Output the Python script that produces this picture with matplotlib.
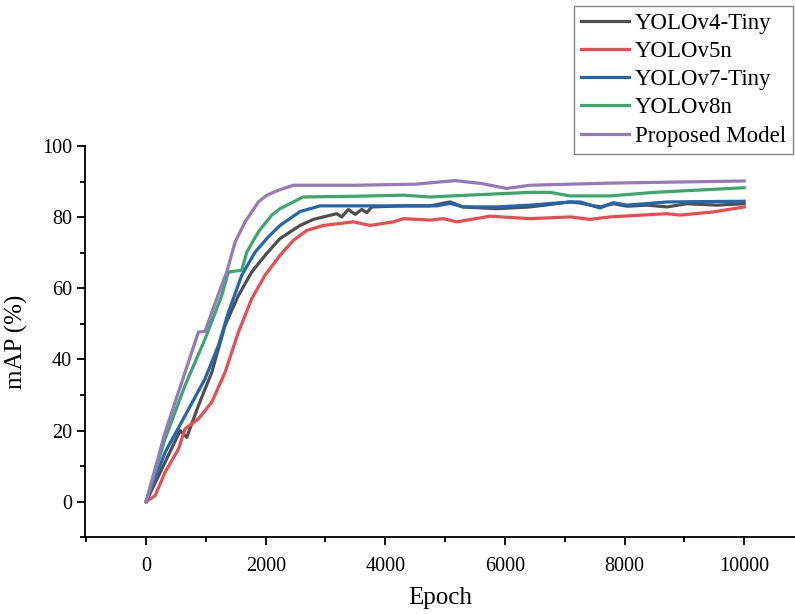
import matplotlib.pyplot as plt
from matplotlib.ticker import MultipleLocator

plt.rcParams['font.family'] = ['Liberation Serif', 'DejaVu Serif']

# values (epoch, mAP %)
v4_epoch = [0, 318, 569, 680, 875, 1099, 1321, 1544, 1767, 1990, 2240, 2575, 2798, 3188,
            3272, 3383, 3495, 3607, 3691, 3774, 4300, 4750, 5084, 5300, 5865, 6420, 7090,
            7258, 7425, 7592, 7809, 8043, 8373, 8712, 9042, 9544, 10000]
v4_map = [0, 11.1, 20.0, 18.1, 27.0, 36.4, 49.6, 58.0, 64.6, 69.3, 74.0, 77.7, 79.4, 81.0,
          80.1, 82.2, 80.8, 82.2, 81.3, 82.9, 83.2, 83.2, 84.3, 82.9, 82.4, 82.9, 84.3,
          84.0, 83.4, 82.9, 83.8, 83.1, 83.4, 82.9, 83.8, 83.4, 83.8]

v5_epoch = [0, 151, 318, 541, 652, 875, 1099, 1321, 1544, 1767, 1990, 2240, 2463, 2687,
            2965, 3467, 3746, 4136, 4303, 4750, 4972, 5195, 5753, 6421, 7090, 7425, 7760,
            8707, 8930, 9487, 10000]
v5_map = [0, 1.7, 8.3, 14.8, 20.5, 23.3, 28.0, 36.4, 47.7, 57.1, 63.7, 69.3, 73.5, 76.3,
          77.7, 78.7, 77.7, 78.7, 79.6, 79.2, 79.6, 78.7, 80.3, 79.6, 80.1, 79.4, 80.1,
          81.0, 80.6, 81.5, 82.9]

v7_epoch = [0, 318, 652, 987, 1209, 1377, 1600, 1823, 2045, 2240, 2575, 2910, 4861,
            5084, 5300, 5865, 6420, 7090, 7258, 7592, 7809, 8043, 8712, 10000]
v7_map = [0, 13.9, 24.2, 34.6, 43.9, 53.3, 63.7, 70.2, 74.5, 77.7, 81.6, 83.2, 83.2,
          83.9, 82.9, 82.9, 83.4, 84.3, 84.3, 82.6, 84.1, 83.4, 84.3, 84.5]

v8_epoch = [0, 318, 652, 987, 1266, 1377, 1600, 1684, 1878, 2101, 2240, 2625,
            3500, 4300, 4750, 5500, 6420, 6755, 7090, 7760, 8500, 10000]
v8_map = [0, 17.7, 32.7, 45.8, 58.0, 64.6, 65.1, 70.2, 75.9, 80.6, 82.4, 85.7,
          85.9, 86.2, 85.7, 86.3, 87.0, 87.0, 86.0, 86.0, 87.0, 88.3]

prop_epoch = [0, 318, 652, 875, 987, 1182, 1349, 1488, 1656, 1878, 2018, 2212, 2463,
              3500, 4500, 5167, 5600, 6030, 6420, 7760, 10000]
prop_map = [0, 19.5, 36.4, 47.7, 47.9, 57.1, 64.6, 73.0, 78.7, 84.3, 86.2, 87.6, 89.0,
            89.0, 89.3, 90.3, 89.5, 88.1, 89.0, 89.6, 90.2]

series = [
    ('YOLOv4-Tiny', v4_epoch, v4_map, '#4f4f4f'),
    ('YOLOv5n', v5_epoch, v5_map, '#ee4a4f'),
    ('YOLOv7-Tiny', v7_epoch, v7_map, '#2166b3'),
    ('YOLOv8n', v8_epoch, v8_map, '#3aa86c'),
    ('Proposed Model', prop_epoch, prop_map, '#9678bd'),
]

fig = plt.figure(figsize=(7.95, 6.14), dpi=100)
ax = fig.add_axes([0.107, 0.125, 0.893, 0.637])

for name, x, y, c in series:
    ax.plot(x, y, color=c, lw=2.3, label=name)

ax.set_xlim(-1020, 10850)
ax.set_ylim(-10, 100)
ax.xaxis.set_major_locator(MultipleLocator(2000))
ax.xaxis.set_minor_locator(MultipleLocator(1000))
ax.yaxis.set_major_locator(MultipleLocator(20))
ax.yaxis.set_minor_locator(MultipleLocator(10))
ax.spines['top'].set_visible(False)
ax.spines['right'].set_visible(False)
for s in ['left', 'bottom']:
    ax.spines[s].set_linewidth(1.3)
ax.tick_params(which='major', direction='out', length=6, width=1.3, labelsize=14.5)
ax.tick_params(which='minor', direction='out', length=3.5, width=1.3)
ax.tick_params(axis='x', pad=8)
ax.set_xlabel('Epoch', fontsize=18, labelpad=8)
ax.set_ylabel('mAP (%)', fontsize=18, labelpad=10)

fig.legend(loc='upper right', bbox_to_anchor=(0.997, 0.99), borderaxespad=0,
           fontsize=16.5, frameon=True, fancybox=False, edgecolor='#666666',
           handlelength=2.1, handletextpad=0.25, labelspacing=0.31, borderpad=0.3)

fig.savefig('out.png', dpi=100)
